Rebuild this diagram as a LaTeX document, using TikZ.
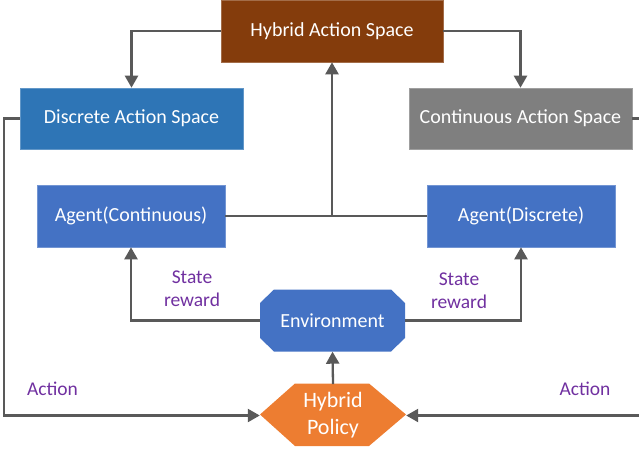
\documentclass[tikz,border=0pt]{standalone}
\usepackage{fontspec}
\setmainfont{Carlito}
\usetikzlibrary{arrows.meta}

\definecolor{brownbox}{HTML}{843C0C}
\definecolor{bluebox}{HTML}{2E75B6}
\definecolor{greybox}{HTML}{7F7F7F}
\definecolor{agentblue}{HTML}{4472C4}
\definecolor{policyorange}{HTML}{ED7D31}
\definecolor{linegrey}{HTML}{595959}
\definecolor{labelpurple}{HTML}{7030A0}

\tikzset{
  box/.style={rectangle, minimum height=61pt, text=white,
    font=\fontsize{20}{23}\selectfont, inner sep=0pt, line width=0.6pt},
  shapebox/.style={rectangle, text=white, inner sep=0pt,
    font=\fontsize{20}{23}\selectfont},
  link/.style={draw=linegrey, line width=2.3pt},
  arrowlink/.style={link, -{Triangle[length=12pt,width=13pt]}},
  note/.style={text=labelpurple, font=\fontsize{19.5}{23}\selectfont,
    align=center, inner sep=0pt}
}

\begin{document}
\begin{tikzpicture}[x=1pt,y=-1pt]
  \useasboundingbox (0,0) rectangle (639,453);
  \clip (0,0) rectangle (639,453);

  % action spaces
  \node[box, fill=brownbox, draw=brownbox!75!white, minimum width=222pt, minimum height=62pt]
    (hyb) at (332,31) {Hybrid Action Space};
  \node[box, fill=bluebox, draw=bluebox!75!white, minimum width=223pt]
    (disc) at (131.5,118.5) {Discrete Action Space};
  \node[box, fill=greybox, draw=greybox!75!white, minimum width=223pt]
    (cont) at (520.5,118.5) {Continuous Action Space};

  % agents
  \node[box, fill=agentblue, draw=agentblue!75!white, minimum width=188pt, minimum height=62pt]
    (agc) at (131,216) {Agent(Continuous)};
  \node[box, fill=agentblue, draw=agentblue!75!white, minimum width=188pt, minimum height=62pt]
    (agd) at (521,216) {Agent(Discrete)};

  % environment (octagon)
  \fill[agentblue] (260,303) -- (274,289.5) -- (391,289.5) -- (405,303)
    -- (405,338) -- (391,351.5) -- (274,351.5) -- (260,338) -- cycle;
  \node[shapebox, minimum width=145pt, minimum height=62pt]
    (env) at (332.5,320.5) {Environment};

  % hybrid policy (hexagon)
  \fill[policyorange] (260,414.5) -- (295,383.5) -- (369,383.5) -- (406,414.5)
    -- (369,446) -- (295,446) -- cycle;
  \node[shapebox, minimum width=146pt, minimum height=62.5pt, align=center,
    font=\fontsize{22}{27}\selectfont]
    (pol) at (333,415.5) {Hybrid\\Policy};

  % connectors
  \draw[arrowlink] (hyb.west) -| (disc.north);
  \draw[arrowlink] (hyb.east) -| (cont.north);
  \draw[link] (agc.east) -- (agd.west);
  \coordinate (join) at (agc.east -| hyb.south);
  \draw[arrowlink] (join) -- (hyb.south);
  \draw[arrowlink] (env.west) -| (agc.south);
  \draw[arrowlink] (env.east) -| (agd.south);
  \draw[arrowlink] (pol.north) -- (env.south);
  \coordinate (leftrail) at (4,118.5);
  \draw[arrowlink] (disc.west) -- (leftrail) |- (pol.west);
  \coordinate (rightrail) at (646,118.5);
  \draw[arrowlink] (cont.east) -- (rightrail) |- (pol.east);

  % labels
  \node[note] (srl) at (192,288.5) {State\\reward};
  \node[note] (srr) at (459,291) {State\\reward};
  \node[note] (actl) at (52.5,389) {Action};
  \node[note] (actr) at (585,389) {Action};
\end{tikzpicture}
\end{document}
